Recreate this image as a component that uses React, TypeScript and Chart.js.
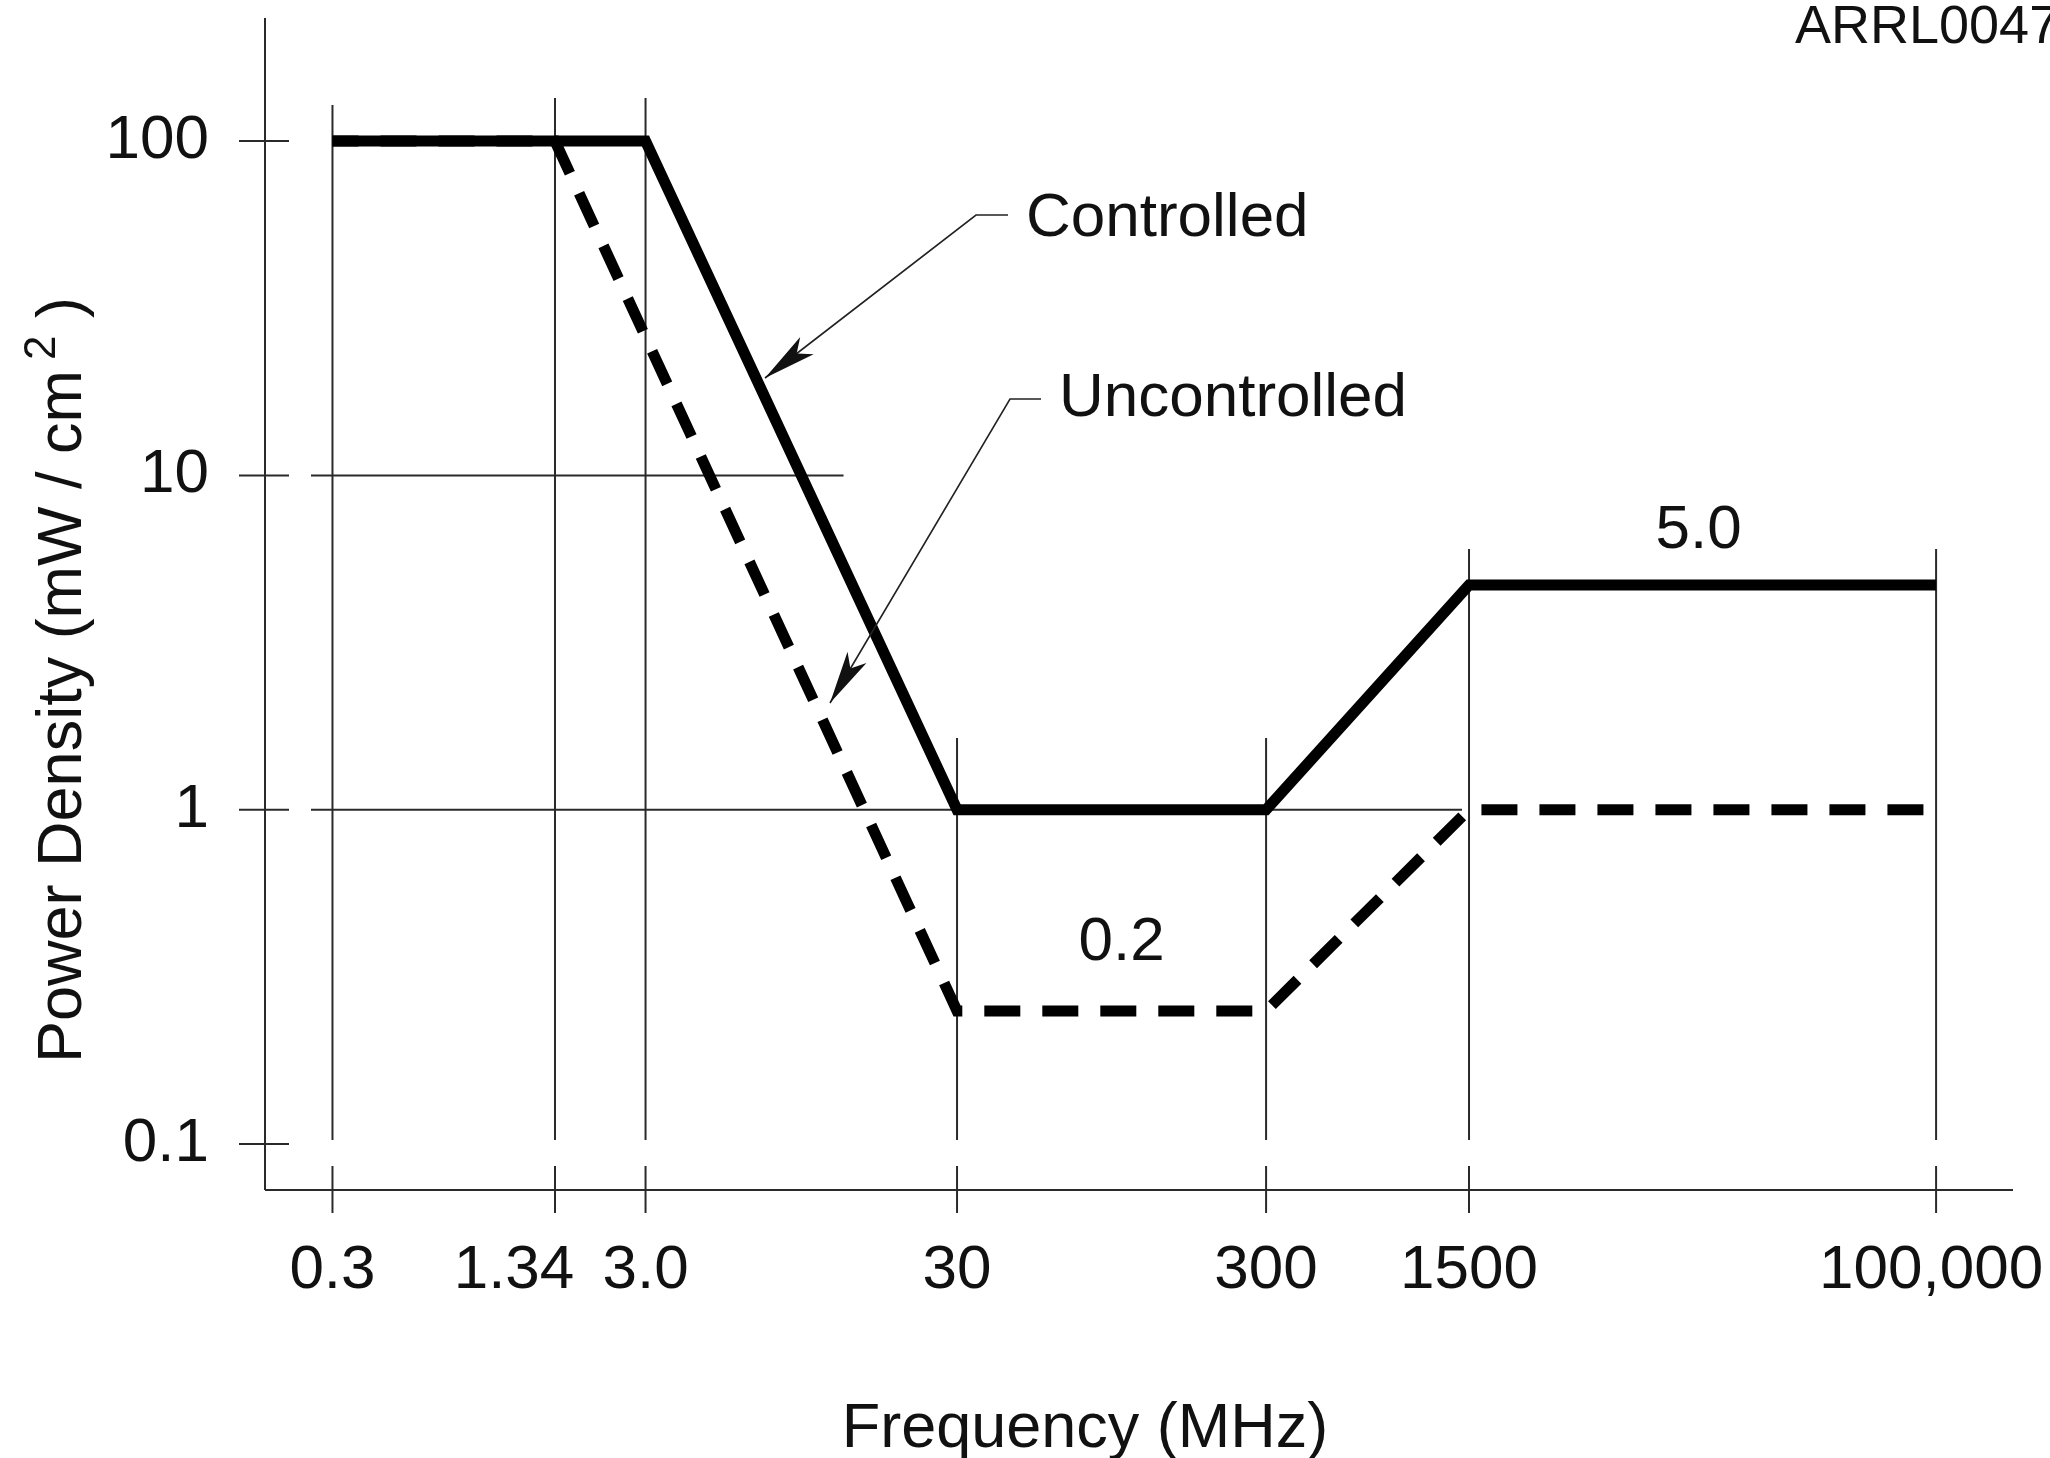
import React, { useEffect, useRef } from 'react';
import { Chart, registerables, LogarithmicScale } from 'chart.js';

// ---------- data ----------
const FREQ_TICKS = [0.3, 1.34, 3, 30, 300, 1500, 100000];
const FREQ_LABELS = ['0.3', '1.34', '3.0', '30', '300', '1500', '100,000'];
const DENSITY_TICKS = [0.1, 1, 10, 100];
const DENSITY_LABELS = ['0.1', '1', '10', '100'];

const CONTROLLED_FREQ = [0.3, 3, 30, 300, 1500, 100000];
const CONTROLLED_DENSITY = [100, 100, 1, 1, 4.7, 4.7];
const UNCONTROLLED_FREQ = [0.3, 1.34, 30, 300, 1500, 100000];
const UNCONTROLLED_DENSITY = [100, 100, 0.25, 0.25, 1, 1];

// ---------- layout / style ----------
// schematic (hand-drafted) frequency axis: where each tick sits along the axis (fraction of width)
const FREQ_AXIS_POSITIONS = [0.0386, 0.1659, 0.2177, 0.3959, 0.5727, 0.6888, 0.956];
const X_LABEL_NUDGE = [0, -41, 0, 0, 0, 0, -5];
const VGRID_TOP = [105, 98, 98, 738, 738, 549, 549];
const FAMILY = "'Liberation Sans', Arial, Helvetica, sans-serif";
const INK = '#111';
const GRID = '#2a2a2a';

class SchematicLogScale extends LogarithmicScale {
  static id = 'schematicLog';
  static defaults = LogarithmicScale.defaults;

  getPixelForValue(value: any) {
    if (value === undefined || value === null || !(value > 0)) return NaN;
    const lv = Math.log10(value);
    const at = FREQ_AXIS_POSITIONS;
    let i = 0;
    while (i < FREQ_TICKS.length - 2 && lv > Math.log10(FREQ_TICKS[i + 1])) i++;
    const l0 = Math.log10(FREQ_TICKS[i]);
    const l1 = Math.log10(FREQ_TICKS[i + 1]);
    const d = at[i] + ((lv - l0) / (l1 - l0)) * (at[i + 1] - at[i]);
    return (this as any).getPixelForDecimal(d);
  }

  getValueForPixel(pixel: number) {
    const d = (this as any).getDecimalForPixel(pixel);
    const at = FREQ_AXIS_POSITIONS;
    let i = 0;
    while (i < at.length - 2 && d > at[i + 1]) i++;
    const l0 = Math.log10(FREQ_TICKS[i]);
    const l1 = Math.log10(FREQ_TICKS[i + 1]);
    return Math.pow(10, l0 + ((d - at[i]) / (at[i + 1] - at[i])) * (l1 - l0));
  }
}

Chart.register(...registerables, SchematicLogScale as any);

function seg(ctx: CanvasRenderingContext2D, x1: number, y1: number, x2: number, y2: number) {
  ctx.beginPath();
  ctx.moveTo(x1, y1);
  ctx.lineTo(x2, y2);
  ctx.stroke();
}

function leader(ctx: CanvasRenderingContext2D, pts: number[][]) {
  ctx.save();
  ctx.strokeStyle = '#222';
  ctx.lineWidth = 1.6;
  ctx.beginPath();
  ctx.moveTo(pts[0][0], pts[0][1]);
  for (let i = 1; i < pts.length; i++) ctx.lineTo(pts[i][0], pts[i][1]);
  ctx.stroke();
  const tip = pts[pts.length - 1];
  const prev = pts[pts.length - 2];
  const dx = prev[0] - tip[0];
  const dy = prev[1] - tip[1];
  const len = Math.hypot(dx, dy);
  const ux = dx / len;
  const uy = dy / len;
  const px = -uy;
  const py = ux;
  const back = 53;
  const half = 11;
  ctx.fillStyle = '#111';
  ctx.beginPath();
  ctx.moveTo(tip[0], tip[1]);
  ctx.lineTo(tip[0] + ux * back + px * half, tip[1] + uy * back + py * half);
  ctx.lineTo(tip[0] + ux * 40, tip[1] + uy * 40);
  ctx.lineTo(tip[0] + ux * back - px * half, tip[1] + uy * back - py * half);
  ctx.closePath();
  ctx.fill();
  ctx.restore();
}

const decorPlugin = {
  id: 'schematicDecor',
  beforeDatasetsDraw(chart: any) {
    const { ctx, chartArea } = chart;
    const xs = chart.scales.x;
    const ys = chart.scales.y;
    const { left, right, top, bottom } = chartArea;
    ctx.save();
    ctx.strokeStyle = GRID;
    ctx.lineWidth = 2;
    // axis lines
    seg(ctx, left, top, left, bottom);
    seg(ctx, left, bottom, right, bottom);
    // y tick marks and partial grid lines
    DENSITY_TICKS.forEach((v) => {
      const y = ys.getPixelForValue(v);
      seg(ctx, left - 26, y, left + 24, y);
    });
    const y10 = ys.getPixelForValue(10);
    seg(ctx, left + 46, y10, xs.getPixelForValue(3) + 198, y10);
    const y1 = ys.getPixelForValue(1);
    seg(ctx, left + 46, y1, xs.getPixelForValue(1500) - 7, y1);
    // vertical grid lines + tick marks
    const yLow = ys.getPixelForValue(0.1) - 4;
    FREQ_TICKS.forEach((f, i) => {
      const x = xs.getPixelForValue(f);
      seg(ctx, x, VGRID_TOP[i], x, yLow);
      seg(ctx, x, bottom - 24, x, bottom + 23);
    });
    ctx.restore();
  },
  afterDatasetsDraw(chart: any) {
    const { ctx, chartArea } = chart;
    const xs = chart.scales.x;
    const ys = chart.scales.y;
    ctx.save();
    ctx.fillStyle = INK;
    ctx.textBaseline = 'alphabetic';

    // x tick labels
    ctx.font = `62px ${FAMILY}`;
    ctx.textAlign = 'center';
    FREQ_TICKS.forEach((f, i) => {
      ctx.fillText(FREQ_LABELS[i], xs.getPixelForValue(f) + X_LABEL_NUDGE[i], 1288);
    });

    // x title
    ctx.font = `63px ${FAMILY}`;
    ctx.fillText('Frequency (MHz)', 1085, 1447);

    // y title with superscript
    ctx.save();
    ctx.translate(81, 680);
    ctx.rotate(-Math.PI / 2);
    ctx.textAlign = 'left';
    const a = 'Power Density (mW / cm';
    const b = '2';
    const c = ' )';
    ctx.font = `63px ${FAMILY}`;
    const wa = ctx.measureText(a).width;
    const wc = ctx.measureText(c).width;
    ctx.font = `44px ${FAMILY}`;
    const wb = ctx.measureText(b).width;
    const gap = 10;
    let x = -(wa + gap + wb + wc) / 2;
    ctx.font = `63px ${FAMILY}`;
    ctx.fillText(a, x, 0);
    x += wa + gap;
    ctx.font = `44px ${FAMILY}`;
    ctx.fillText(b, x, -26);
    x += wb;
    ctx.font = `63px ${FAMILY}`;
    ctx.fillText(c, x, 0);
    ctx.restore();

    // annotations
    ctx.font = `62px ${FAMILY}`;
    ctx.textAlign = 'left';
    ctx.fillText('Controlled', 1026, 236);
    ctx.fillText('Uncontrolled', 1059, 416);
    ctx.textAlign = 'center';
    const midHigh = (xs.getPixelForValue(1500) + xs.getPixelForValue(100000)) / 2;
    ctx.fillText('5.0', midHigh - 4, ys.getPixelForValue(4.7) - 37);
    const midLow = (xs.getPixelForValue(30) + xs.getPixelForValue(300)) / 2;
    ctx.fillText('0.2', midLow + 10, ys.getPixelForValue(0.25) - 51);

    ctx.textAlign = 'left';
    ctx.font = `54px ${FAMILY}`;
    ctx.fillText('ARRL0047', 1795, 43);

    leader(ctx, [[1008, 215], [976, 215], [765, 378]]);
    leader(ctx, [[1041, 399], [1010, 399], [830, 703]]);
    ctx.restore();
  },
};

export default function App() {
  const canvasRef = useRef<HTMLCanvasElement | null>(null);

  useEffect(() => {
    const canvas = canvasRef.current;
    if (!canvas) return;
    const chart = new Chart(canvas, {
      type: 'line',
      data: {
        datasets: [
          {
            label: 'Controlled',
            data: CONTROLLED_FREQ.map((f, i) => ({ x: f, y: CONTROLLED_DENSITY[i] })),
            borderColor: '#000',
            borderWidth: 11,
            pointRadius: 0,
            tension: 0,
            borderJoinStyle: 'miter',
            borderCapStyle: 'butt',
            fill: false,
          },
          {
            label: 'Uncontrolled',
            data: UNCONTROLLED_FREQ.map((f, i) => ({ x: f, y: UNCONTROLLED_DENSITY[i] })),
            borderColor: '#000',
            borderWidth: 11,
            borderDash: [36, 22],
            borderDashOffset: 10,
            pointRadius: 0,
            tension: 0,
            borderJoinStyle: 'miter',
            borderCapStyle: 'butt',
            fill: false,
          },
        ],
      },
      options: {
        animation: false,
        responsive: true,
        maintainAspectRatio: false,
        layout: { padding: { top: 18, right: 37, left: 0, bottom: 0 } },
        plugins: {
          legend: { display: false },
          tooltip: { enabled: false },
          title: { display: false },
        },
        events: [],
        scales: {
          x: {
            type: 'schematicLog' as any,
            min: 0.2,
            max: 200000,
            bounds: 'data',
            afterBuildTicks: (s: any) => {
              s.ticks = FREQ_TICKS.map((v) => ({ value: v }));
            },
            ticks: { display: false, autoSkip: false },
            grid: { display: false, drawTicks: false },
            border: { display: false },
            afterFit: (s: any) => {
              s.height = 268;
              s.paddingLeft = 0;
              s.paddingRight = 0;
            },
          } as any,
          y: {
            type: 'logarithmic',
            min: 0.0728,
            max: 233.5,
            bounds: 'data',
            afterBuildTicks: (s: any) => {
              s.ticks = DENSITY_TICKS.map((v) => ({ value: v }));
            },
            ticks: {
              autoSkip: false,
              padding: 0,
              color: INK,
              font: { family: FAMILY, size: 62 },
              callback: (v: any) => {
                const i = DENSITY_TICKS.indexOf(Number(v));
                return i >= 0 ? DENSITY_LABELS[i] : '';
              },
            },
            grid: { display: false, drawTicks: true, tickLength: 56 },
            border: { display: false },
            afterFit: (s: any) => {
              s.width = 265;
              s.paddingTop = 0;
              s.paddingBottom = 0;
            },
          } as any,
        },
      },
      plugins: [decorPlugin],
    } as any);
    return () => chart.destroy();
  }, []);

  return (
    <div
      style={{
        position: 'fixed',
        left: 0,
        top: 0,
        width: '2050px',
        height: '1458px',
        background: '#fff',
      }}
    >
      <canvas ref={canvasRef} />
    </div>
  );
}
